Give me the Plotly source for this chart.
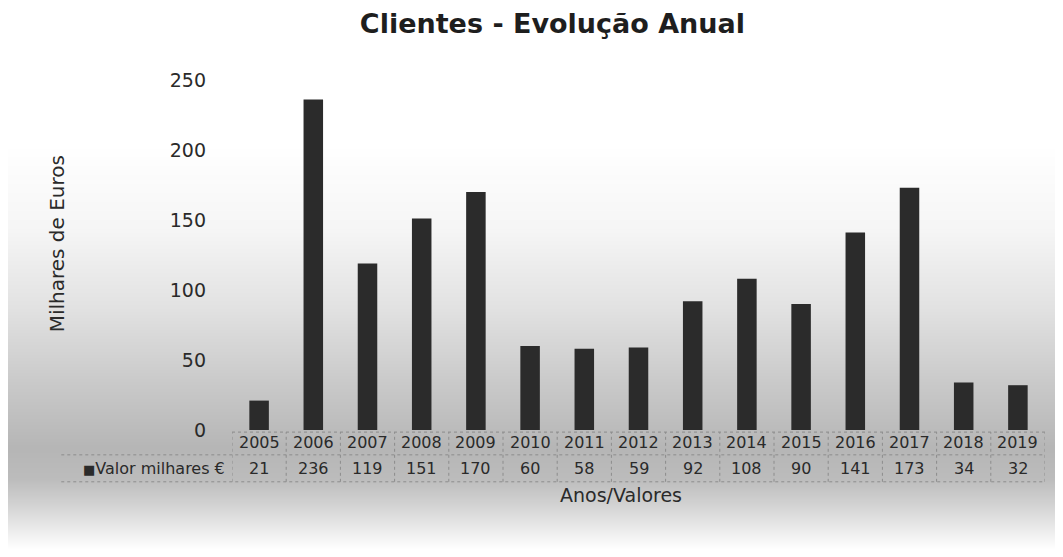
import base64
import struct
import zlib

import plotly.graph_objects as go

anos = ["2005", "2006", "2007", "2008", "2009", "2010", "2011", "2012",
        "2013", "2014", "2015", "2016", "2017", "2018", "2019"]
valores = [21, 236, 119, 151, 170, 60, 58, 59, 92, 108, 90, 141, 173, 34, 32]
serie = "Valor milhares €"
y_ticks = [0, 50, 100, 150, 200, 250]

W, H = 1047, 541
L, R, T, B = 224, 10, 72, 119
pw, ph = W - L - R, H - T - B

bar_color = "#2b2b2b"
txt = "#2a2a2a"
grid = "#8c8c8c"
font = "DejaVu Sans"


def gradient_png(stops, height):
    # 1px wide grey gradient, used only as a paper background
    rows = b""
    for yy in range(height):
        for (y0, g0), (y1, g1) in zip(stops, stops[1:]):
            if y0 <= yy <= y1:
                g = g0 + (g1 - g0) * (yy - y0) / max(y1 - y0, 1)
                break
        rows += b"\x00" + bytes([int(g)])
    def chunk(tag, data):
        c = struct.pack(">I", len(data)) + tag + data
        return c + struct.pack(">I", zlib.crc32(tag + data) & 0xffffffff)
    png = b"\x89PNG\r\n\x1a\n"
    png += chunk(b"IHDR", struct.pack(">IIBBBBB", 1, height, 8, 0, 0, 0, 0))
    png += chunk(b"IDAT", zlib.compress(rows))
    png += chunk(b"IEND", b"")
    return "data:image/png;base64," + base64.b64encode(png).decode()


bg = gradient_png([(0, 255), (140, 255), (220, 246), (300, 226), (380, 200),
                   (440, 182), (470, 188), (500, 214), (530, 244), (H, 255)], H)

fig = go.Figure()
fig.add_trace(go.Bar(x=list(range(len(anos))), y=valores, width=0.36,
                     marker=dict(color=bar_color, line=dict(width=0)), name=serie))

fig.update_layout(
    width=W, height=H,
    margin=dict(l=L, r=R, t=T, b=B),
    paper_bgcolor="white", plot_bgcolor="rgba(0,0,0,0)",
    showlegend=False,
    title=dict(text="<b>Clientes - Evolução Anual</b>", x=0.52, xanchor="center",
               y=0.972, yanchor="middle",
               font=dict(family=font, size=27, color="#1e1e1e")),
    font=dict(family=font, color=txt),
    xaxis=dict(range=[-0.5, len(anos) - 0.5], showticklabels=False, showgrid=False,
               zeroline=False, showline=False),
    yaxis=dict(range=[0, 250], tickvals=y_ticks, showgrid=False, zeroline=False,
               showline=False, ticks="", ticklabelstandoff=25,
               tickfont=dict(family=font, size=19, color=txt)),
    images=[dict(source=bg, xref="paper", yref="paper", x=-L / pw, y=1 + T / ph,
                 sizex=W / pw, sizey=H / ph, sizing="stretch", layer="below",
                 xanchor="left", yanchor="top")],
)

fig.add_annotation(x=-0.215, y=0.531, xref="paper", yref="paper", textangle=-90,
                   xanchor="center", yanchor="middle",
                   text="Milhares de Euros", showarrow=False,
                   font=dict(size=20, color=txt))

# data table below the bars
row1_top, row1_bot, row2_bot = -0.006, -0.071, -0.148
line_style = dict(color=grid, width=1, dash="dot")
for i, (a, v) in enumerate(zip(anos, valores)):
    fig.add_annotation(x=i, y=-0.037, xref="x", yref="paper",
                       xanchor="center", yanchor="middle",
                       text=a, showarrow=False, font=dict(size=16, color=txt))
    fig.add_annotation(x=i, y=-0.109, xref="x", yref="paper",
                       xanchor="center", yanchor="middle",
                       text=str(v), showarrow=False, font=dict(size=16, color=txt))
for k in range(len(anos) + 1):
    fig.add_shape(type="line", xref="x", yref="paper", x0=k - 0.5, x1=k - 0.5,
                  y0=row2_bot, y1=row1_top, line=line_style)
fig.add_shape(type="line", xref="x", yref="paper", x0=-0.5, x1=len(anos) - 0.5,
              y0=row1_top, y1=row1_top, line=line_style)
fig.add_shape(type="line", xref="paper", yref="paper", x0=-0.21, x1=1,
              y0=row1_bot, y1=row1_bot, line=line_style)
fig.add_shape(type="line", xref="paper", yref="paper", x0=-0.21, x1=1,
              y0=row2_bot, y1=row2_bot, line=line_style)
fig.add_annotation(x=-0.006, y=-0.109, xref="paper", yref="paper",
                   xanchor="right", yanchor="middle", showarrow=False,
                   text="<span style='color:#2b2b2b;font-size:13px'>■</span>" + serie,
                   font=dict(size=16, color=txt))

fig.add_annotation(x=0.478, y=-0.186, xref="paper", yref="paper",
                   xanchor="center", yanchor="middle",
                   text="Anos/Valores", showarrow=False,
                   font=dict(size=19, color=txt))

fig.write_html("out.html")
